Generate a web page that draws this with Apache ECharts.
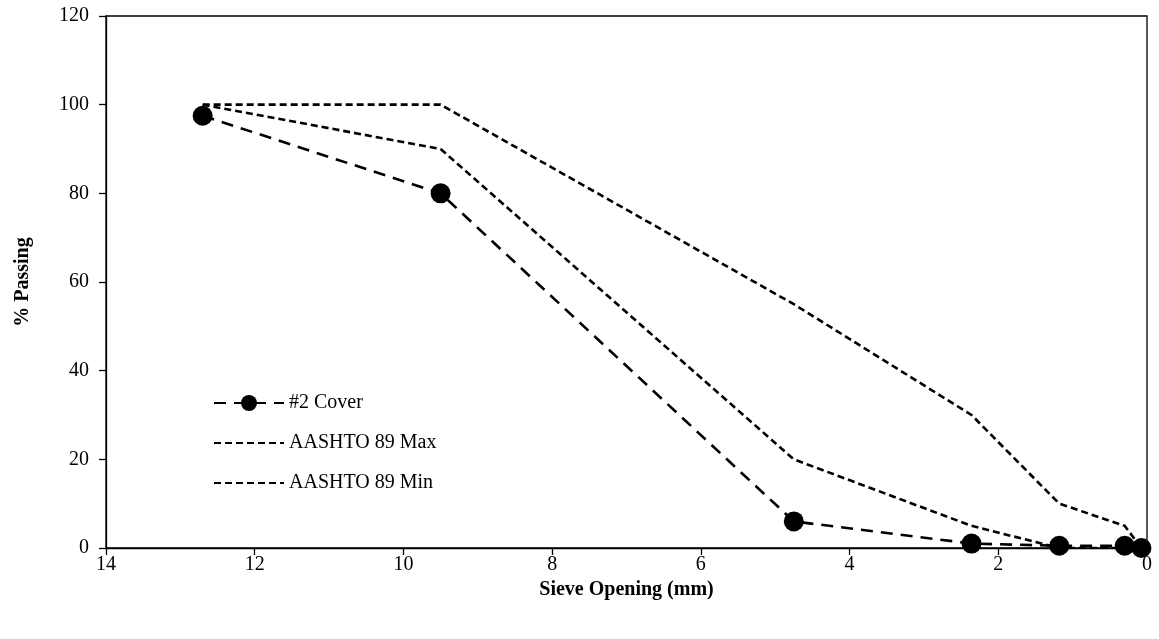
<!DOCTYPE html>
<html>
<head>
<meta charset="utf-8">
<script src="https://cdn.jsdelivr.net/npm/echarts@6/dist/echarts.min.js"></script>
<style>html,body{margin:0;padding:0;background:#fff}#c{width:1159px;height:639px}</style>
</head>
<body>
<div id="c"></div>
<script>
const sieveMm = [12.7, 9.5, 4.75, 2.36, 1.18, 0.3, 0.075];
const coverPassing = [97.5, 80, 6, 1, 0.5, 0.5, 0];
const maxPassing = [100, 100, 55, 30, 10, 5, 0];
const minPassing = [100, 90, 20, 5, 0, 0, 0];
const seriesNames = ['#2 Cover', 'AASHTO 89 Max', 'AASHTO 89 Min'];

const pairs = (ys) => sieveMm.map((x, i) => [x, ys[i]]);
const font = 'Liberation Serif, Times New Roman, serif';

const chart = echarts.init(document.getElementById('c'), null, {renderer: 'canvas'});
chart.setOption({
  animation: false,
  backgroundColor: '#fff',
  grid: {left: 106, right: 12, top: 16, bottom: 91, containLabel: false, outerBoundsMode: 'none',
         show: true, borderColor: '#000', borderWidth: 1.3},
  legend: {
    orient: 'vertical', left: 208, top: 388, itemGap: 20, itemWidth: 70, itemHeight: 20,
    textStyle: {fontFamily: font, fontSize: 20, color: '#000'},
    data: [
      {name: seriesNames[0]},
      {name: seriesNames[1], itemStyle: {opacity: 0}},
      {name: seriesNames[2], itemStyle: {opacity: 0}}
    ]
  },
  xAxis: {
    type: 'value', min: 0, max: 14, interval: 2, inverse: true,
    name: 'Sieve Opening (mm)', nameLocation: 'middle', nameGap: 29,
    nameTextStyle: {fontFamily: font, fontSize: 20, fontWeight: 'bold', color: '#000'},
    axisLine: {onZero: false, lineStyle: {color: '#000', width: 1.3}},
    axisTick: {inside: false, length: 7, lineStyle: {color: '#000', width: 1.3}},
    axisLabel: {fontFamily: font, fontSize: 20, color: '#000', margin: 7},
    splitLine: {show: false}
  },
  yAxis: {
    type: 'value', min: 0, max: 120, interval: 20,
    name: '% Passing', nameLocation: 'middle', nameGap: 73,
    nameTextStyle: {fontFamily: font, fontSize: 20, fontWeight: 'bold', color: '#000'},
    axisLine: {show: true, onZero: false, lineStyle: {color: '#000', width: 1.3}},
    axisTick: {show: true, inside: false, length: 7, lineStyle: {color: '#000', width: 1.3}},
    axisLabel: {fontFamily: font, fontSize: 20, color: '#000', margin: 17},
    splitLine: {show: false}
  },
  series: [
    {
      name: seriesNames[0], type: 'line', data: pairs(coverPassing),
      symbol: 'circle', symbolSize: 20, showAllSymbol: true,
      itemStyle: {color: '#000'},
      lineStyle: {color: '#000', width: 2.6, type: [12, 8]}
    },
    {
      name: seriesNames[1], type: 'line', data: pairs(maxPassing),
      symbol: 'none',
      itemStyle: {color: '#000'},
      lineStyle: {color: '#000', width: 2.6, type: [7, 4]}
    },
    {
      name: seriesNames[2], type: 'line', data: pairs(minPassing),
      symbol: 'none',
      itemStyle: {color: '#000'},
      lineStyle: {color: '#000', width: 2.6, type: [7, 4]}
    }
  ]
});
</script>
</body>
</html>
